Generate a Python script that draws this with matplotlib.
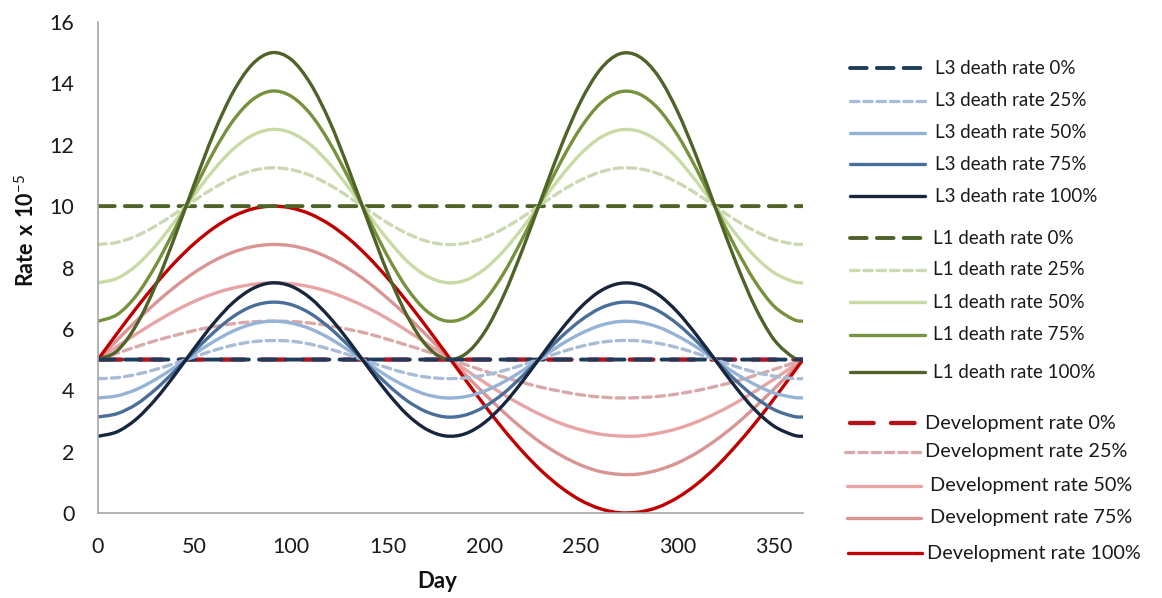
import matplotlib.pyplot as plt
from matplotlib.lines import Line2D
from matplotlib.path import Path
from matplotlib.patches import PathPatch

plt.rcParams['font.family'] = ['Lato', 'DejaVu Sans']
plt.rcParams['mathtext.fontset'] = 'custom'
plt.rcParams['mathtext.rm'] = 'Lato'
plt.rcParams['mathtext.bf'] = 'Lato:bold'

# day of year, values every 10 days
days = [0, 10, 20, 30, 40, 50, 60, 70, 80, 90, 100, 110, 120, 130, 140, 150, 160, 170, 180,
        190, 200, 210, 220, 230, 240, 250, 260, 270, 280, 290, 300, 310, 320, 330, 340, 350, 360, 365]
flat_days = [0, 365]

# L3 death rate (x 10^-5)
l3_0 = [5.0, 5.0]
l3_25 = [4.38, 4.41, 4.52, 4.68, 4.88, 5.09, 5.30, 5.47, 5.58, 5.62, 5.60, 5.50, 5.34, 5.15, 4.93, 4.73, 4.55, 4.43, 4.38,
         4.40, 4.49, 4.64, 4.83, 5.04, 5.25, 5.43, 5.56, 5.62, 5.61, 5.53, 5.39, 5.20, 4.99, 4.78, 4.59, 4.46, 4.38, 4.38]
l3_50 = [3.75, 3.82, 4.03, 4.36, 4.76, 5.19, 5.59, 5.93, 6.16, 6.25, 6.19, 6.00, 5.69, 5.29, 4.87, 4.45, 4.11, 3.86, 3.75,
         3.79, 3.97, 4.27, 4.65, 5.08, 5.50, 5.85, 6.11, 6.24, 6.22, 6.06, 5.77, 5.40, 4.97, 4.55, 4.19, 3.91, 3.77, 3.75]
l3_75 = [3.13, 3.24, 3.55, 4.04, 4.64, 5.28, 5.89, 6.40, 6.74, 6.87, 6.79, 6.50, 6.03, 5.44, 4.80, 4.18, 3.66, 3.30, 3.13,
         3.19, 3.46, 3.90, 4.48, 5.12, 5.75, 6.28, 6.67, 6.86, 6.83, 6.59, 6.16, 5.59, 4.96, 4.33, 3.78, 3.37, 3.15, 3.13]
l3_100 = [2.50, 2.65, 3.07, 3.72, 4.52, 5.38, 6.19, 6.86, 7.31, 7.50, 7.39, 7.00, 6.37, 5.59, 4.73, 3.91, 3.21, 2.73, 2.51,
          2.58, 2.94, 3.54, 4.31, 5.16, 5.99, 6.71, 7.23, 7.48, 7.44, 7.12, 6.55, 5.79, 4.95, 4.11, 3.37, 2.83, 2.54, 2.50]

# L1 death rate
l1_0 = [10.0, 10.0]
l1_25 = [8.75, 8.82, 9.03, 9.36, 9.76, 10.19, 10.59, 10.93, 11.16, 11.25, 11.19, 11.00, 10.69, 10.29, 9.87, 9.45, 9.11, 8.86, 8.75,
         8.79, 8.97, 9.27, 9.65, 10.08, 10.50, 10.85, 11.11, 11.24, 11.22, 11.06, 10.77, 10.40, 9.97, 9.55, 9.19, 8.91, 8.77, 8.75]
l1_50 = [7.50, 7.65, 8.07, 8.72, 9.52, 10.38, 11.19, 11.86, 12.31, 12.50, 12.39, 12.00, 11.37, 10.59, 9.73, 8.91, 8.21, 7.73, 7.51,
         7.58, 7.94, 8.54, 9.31, 10.16, 10.99, 11.71, 12.23, 12.48, 12.44, 12.12, 11.55, 10.79, 9.95, 9.11, 8.37, 7.83, 7.54, 7.50]
l1_75 = [6.25, 6.47, 7.10, 8.08, 9.28, 10.56, 11.78, 12.79, 13.47, 13.75, 13.58, 13.00, 12.06, 10.88, 9.60, 8.36, 7.32, 6.59, 6.26,
         6.37, 6.91, 7.81, 8.97, 10.24, 11.49, 12.56, 13.34, 13.72, 13.66, 13.18, 12.32, 11.19, 9.92, 8.66, 7.56, 6.74, 6.31, 6.25]
l1_100 = [5.00, 5.29, 6.14, 7.44, 9.04, 10.75, 12.38, 13.72, 14.63, 15.00, 14.78, 13.99, 12.75, 11.17, 9.46, 7.82, 6.43, 5.46, 5.02,
          5.17, 5.88, 7.08, 8.62, 10.32, 11.99, 13.42, 14.45, 14.96, 14.88, 14.24, 13.09, 11.59, 9.89, 8.21, 6.74, 5.65, 5.07, 5.00]

# development rate
dev_0 = [5.0, 5.0]
dev_25 = [5.00, 5.21, 5.42, 5.62, 5.79, 5.95, 6.07, 6.17, 6.23, 6.25, 6.24, 6.19, 6.10, 5.98, 5.84, 5.66, 5.47, 5.27, 5.05,
          4.84, 4.63, 4.43, 4.25, 4.09, 3.96, 3.85, 3.78, 3.75, 3.76, 3.80, 3.88, 3.99, 4.13, 4.29, 4.48, 4.68, 4.89, 5.00]
dev_50 = [5.00, 5.43, 5.84, 6.23, 6.59, 6.90, 7.15, 7.33, 7.45, 7.50, 7.47, 7.37, 7.20, 6.96, 6.67, 6.33, 5.94, 5.53, 5.11,
          4.68, 4.26, 3.86, 3.50, 3.18, 2.91, 2.71, 2.57, 2.51, 2.51, 2.60, 2.75, 2.97, 3.25, 3.58, 3.96, 4.36, 4.79, 5.00]
dev_75 = [5.00, 5.64, 6.27, 6.85, 7.38, 7.84, 8.22, 8.50, 8.68, 8.75, 8.71, 8.56, 8.30, 7.95, 7.51, 6.99, 6.42, 5.80, 5.16,
          4.52, 3.89, 3.29, 2.74, 2.26, 1.87, 1.56, 1.35, 1.26, 1.27, 1.40, 1.63, 1.96, 2.38, 2.87, 3.44, 4.04, 4.68, 5.00]
dev_100 = [5.00, 5.86, 6.69, 7.47, 8.18, 8.79, 9.29, 9.67, 9.91, 10.00, 9.94, 9.74, 9.40, 8.93, 8.34, 7.65, 6.89, 6.07, 5.22,
           4.36, 3.52, 2.72, 1.99, 1.35, 0.82, 0.41, 0.14, 0.01, 0.03, 0.19, 0.50, 0.94, 1.50, 2.17, 2.91, 3.72, 4.57, 5.00]


def smooth_path(x, y):
    # Excel-style "smoothed line": cubic bezier through every data point
    pts = list(zip(x, y))
    n = len(pts)
    verts, codes = [pts[0]], [Path.MOVETO]
    for i in range(n - 1):
        p0, p1 = pts[max(i - 1, 0)], pts[i]
        p2, p3 = pts[i + 1], pts[min(i + 2, n - 1)]
        c1 = (p1[0] + (p2[0] - p0[0]) / 6, p1[1] + (p2[1] - p0[1]) / 6)
        c2 = (p2[0] - (p3[0] - p1[0]) / 6, p2[1] - (p3[1] - p1[1]) / 6)
        verts += [c1, c2, p2]
        codes += [Path.CURVE4] * 3
    return Path(verts, codes)


W, H = 1162, 598
fig = plt.figure(figsize=(W / 100, H / 100), dpi=100)
ax = fig.add_axes([98 / W, 1 - 513 / H, (803 - 98) / W, (513 - 22) / H])

LONG = (4.3, 2.6)
SHORT = (2.5, 1.5)

# (label, x, y, color, lw, dashes, legend row y px, line x0, line x1, text x, font size)
series = [
    ('Development rate 0%', flat_days, dev_0, '#B3121B', 3.1, (5.5, 4.0), 423, 850, 917, 925, 14.3),
    ('Development rate 25%', days, dev_25, '#D9A9A9', 2.4, SHORT, 452, 845, 920, 925, 14.3),
    ('Development rate 50%', days, dev_50, '#E8A4A4', 2.4, None, 486, 847, 921, 930, 14.3),
    ('Development rate 75%', days, dev_75, '#D99594', 2.4, None, 518, 847, 921, 930, 14.3),
    ('Development rate 100%', days, dev_100, '#C00000', 2.4, None, 553, 848, 922, 927, 14.3),
    ('L1 death rate 0%', flat_days, l1_0, '#4F6228', 2.8, LONG, 238, 850, 925, 933, 13.5),
    ('L1 death rate 25%', days, l1_25, '#CBD8B2', 2.4, SHORT, 270, 850, 925, 933, 13.5),
    ('L1 death rate 50%', days, l1_50, '#C8DBA4', 2.4, None, 302, 850, 925, 933, 13.5),
    ('L1 death rate 75%', days, l1_75, '#76923C', 2.4, None, 335, 850, 925, 933, 13.5),
    ('L1 death rate 100%', days, l1_100, '#4F6228', 2.4, None, 372, 850, 925, 933, 13.5),
    ('L3 death rate 0%', flat_days, l3_0, '#1F3B5C', 2.8, LONG, 68, 850, 925, 935, 13.5),
    ('L3 death rate 25%', days, l3_25, '#A9BCD6', 2.4, SHORT, 101, 850, 925, 935, 13.5),
    ('L3 death rate 50%', days, l3_50, '#95B3D7', 2.4, None, 133, 850, 925, 935, 13.5),
    ('L3 death rate 75%', days, l3_75, '#4A6E9A', 2.4, None, 164, 850, 925, 935, 13.5),
    ('L3 death rate 100%', days, l3_100, '#17253D', 2.4, None, 196, 850, 925, 935, 13.5),
]

for label, x, y, color, lw, dashes, ly, x0, x1, tx, fs in series:
    ls = '-' if dashes is None else (0, dashes)
    ax.add_patch(PathPatch(smooth_path(x, y), fill=False, edgecolor=color,
                           lw=lw, linestyle=ls, capstyle='round'))
    # legend entry drawn by hand to keep the original row spacing
    fig.add_artist(Line2D([x0 / W, x1 / W], [1 - ly / H, 1 - ly / H],
                          transform=fig.transFigure, color=color, lw=lw,
                          linestyle=ls, solid_capstyle='round', dash_capstyle='round'))
    fig.text(tx / W, 1 - ly / H, label, fontsize=fs, color='#1A1A1A',
             va='center', ha='left')

ax.set_xlim(0, 365)
ax.set_ylim(0, 16)
ax.set_xticks(range(0, 351, 50))
ax.set_yticks(range(0, 17, 2))
ax.tick_params(length=0, labelsize=15.5, colors='#1A1A1A')
ax.tick_params(axis='x', pad=17)
ax.tick_params(axis='y', pad=17)
for s in ['top', 'right']:
    ax.spines[s].set_visible(False)
for s in ['left', 'bottom']:
    ax.spines[s].set_color('#A6A6A6')
    ax.spines[s].set_linewidth(1.2)

fig.text(437 / W, 1 - 582 / H, 'Day', fontsize=16, fontweight='bold',
         ha='center', va='center', color='#111111')
fig.text(26 / W, 1 - 230 / H, r'$\mathbf{Rate\ x\ 10}^{\mathrm{-5}}$', fontsize=15.5,
         rotation=90, ha='center', va='center', color='#111111')

fig.savefig('out.png', dpi=100)
